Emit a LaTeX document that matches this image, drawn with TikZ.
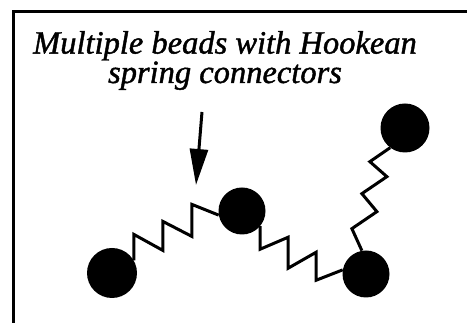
\documentclass[tikz,border=0pt]{standalone}
\usepackage{fontspec}
\setmainfont{Liberation Serif}
\newfontfamily\titlefont{Liberation Serif}[RawFeature={embolden=1.3}]
\usepackage{tikz}
\usetikzlibrary{positioning}
\usetikzlibrary{arrows.meta}

\tikzset{
	bead/.style    = {circle, fill=black, inner sep=0pt, minimum size=47pt},
	spring/.style  = {line width=3pt, line join=miter},
	pointer/.style = {line width=3pt, -{Triangle[length=36pt, width=18pt]}},
}

\begin{document}
\begin{tikzpicture}[x=1pt, y=1pt]

	\useasboundingbox (0,0) rectangle (467,323);
	\clip (0,0) rectangle (467,323);

	% Open frame: left and top edges only
	\draw[line width=2.8pt] (13.5,-5) -- (13.5,311.5) -- (475,311.5);

	% Title (anchor=base sits on the last line)
	\node[anchor=base, align=center, font=\titlefont\itshape\fontsize{32.5}{27}\selectfont]
		(Title) at (225,240) {Multiple beads with Hookean\\spring connectors};

	% The four beads
	\node[bead, minimum width=45pt, minimum height=50pt] (B1) at (112,50) {};
	\node[bead] (B2) at (242,112) {};
	\node[bead, minimum height=45pt] (B3) at (366,49) {};
	\node[bead, minimum height=49pt] (B4) at (405,195) {};

	% Springs, drawn as saw-tooth lines between the beads
	\draw[spring] (B1.30) -- ++(0,26) -- ++(29,-16) -- ++(0,29)
		-- ++(29,-15) -- ++(0,32) -- (B2.190);
	\draw[spring] (B2.-40) -- ++(0,-23) -- ++(28,12) -- ++(0,-31)
		-- ++(28,16) -- ++(0,-28) -- (B3.170);
	\draw[spring] (B3.100) -- ++(-10,22) -- ++(25,17) -- ++(-15,18)
		-- ++(25,17) -- ++(-17,15) -- (B4.233);

	% Arrow from the title down to the first spring
	\coordinate (Tail) at (202,211);
	\coordinate (Tip)  at (196,138);
	\draw[pointer] (Tail) -- (Tip);

\end{tikzpicture}
\end{document}
